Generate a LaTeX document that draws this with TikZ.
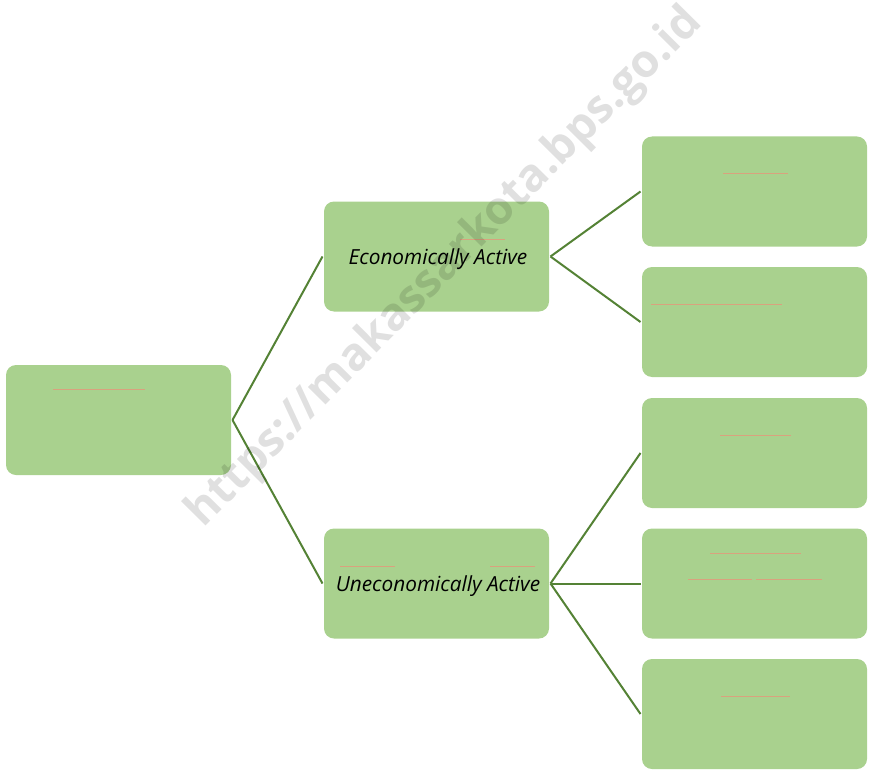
\documentclass[tikz,border=0pt]{standalone}
\usepackage{fontspec}
\setmainfont{Open Sans}
\newfontfamily\wmfont{Open Sans}
\definecolor{boxgreen}{HTML}{A9D18E}
\definecolor{linegreen}{HTML}{548235}
\definecolor{faintline}{HTML}{D9A27E}
\begin{document}
\begin{tikzpicture}[x=1pt,y=-1pt,
  box/.style={fill=boxgreen, rounded corners=10pt, minimum width=225pt, minimum height=110pt, inner sep=0pt, outer sep=1.5pt},
  conn/.style={draw=linegreen, line width=2pt},
  faint/.style={draw=faintline, line width=0.8pt},
  lbl/.style={font=\itshape\fontsize{20.8}{24}\selectfont, text=black}]
\useasboundingbox (0,0) rectangle (869,770);
\node[box] (root) at (118.5,420) {};
\node[box] (ea) at (436.5,256.5) {};
\node[box] (ua) at (436.5,583.5) {};
\node[box] (r1) at (754.5,191.5) {};
\node[box] (r2) at (754.5,322) {};
\node[box] (r3) at (754.5,453) {};
\node[box] (r4) at (754.5,583.5) {};
\node[box] (r5) at (754.5,714) {};
\node[lbl] (eat) at (438,259) {Economically Active};
\node[lbl] (uat) at (438,586) {Uneconomically Active};
\draw[conn] (root.east) -- (ea.west);
\draw[conn] (root.east) -- (ua.west);
\draw[conn] (ea.east) -- (r1.west);
\draw[conn] (ea.east) -- (r2.west);
\draw[conn] (ua.east) -- (r3.west);
\draw[conn] (ua.east) -- (r4.west);
\draw[conn] (ua.east) -- (r5.west);
\draw[faint] (53,389) -- (145,389);
\draw[faint] (460,239) -- (505,239);
\draw[faint] (340,566) -- (395,566);
\draw[faint] (490,566) -- (535,566);
\draw[faint] (723,173) -- (788,173);
\draw[faint] (651,304) -- (782,304);
\draw[faint] (720,435) -- (791,435);
\draw[faint] (710,553) -- (801,553);
\draw[faint] (688,579) -- (752,579);
\draw[faint] (756,579) -- (822,579);
\draw[faint] (721,696) -- (790,696);
\node[rotate=45.3, text=black, text opacity=0.12, font=\wmfont\bfseries\fontsize{45.5}{50}\selectfont] (wm) at (445,268) {https://makassarkota.bps.go.id};
\end{tikzpicture}
\end{document}
